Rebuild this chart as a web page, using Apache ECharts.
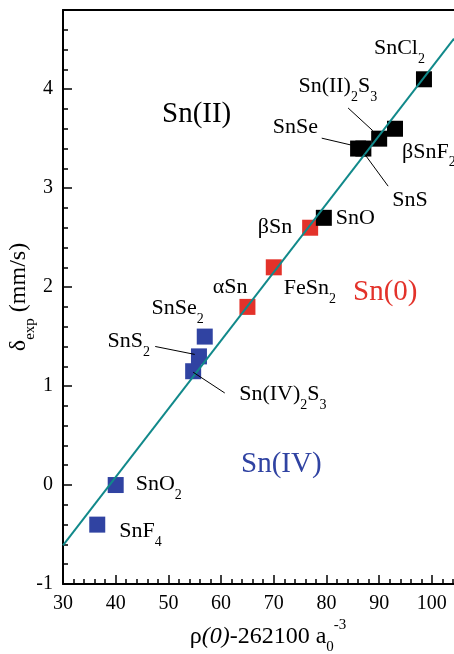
<!DOCTYPE html>
<html>
<head>
<meta charset="utf-8">
<script src="https://cdn.jsdelivr.net/npm/echarts@6/dist/echarts.min.js"></script>
<style>
  html, body { margin: 0; padding: 0; background: #fff; }
  #chart { width: 454px; height: 654px; }
</style>
</head>
<body>
<div id="chart"></div>
<script>
// axis ticks
var xTicks = [30, 40, 50, 60, 70, 80, 90, 100];
var xMinorTicks = [32, 34, 36, 38, 42, 44, 46, 48, 52, 54, 56, 58, 62, 64, 66, 68,
                   72, 74, 76, 78, 82, 84, 86, 88, 92, 94, 96, 98, 102, 104];
var yTicks = [-1, 0, 1, 2, 3, 4];
var yMinorTicks = [-0.8, -0.6, -0.4, -0.2, 0.2, 0.4, 0.6, 0.8, 1.2, 1.4, 1.6, 1.8,
                   2.2, 2.4, 2.6, 2.8, 3.2, 3.4, 3.6, 3.8, 4.2, 4.4, 4.6];

// Sn(IV) compounds
var sn4Labels = ['SnF{s|4}', 'SnO{s|2}', 'Sn(IV){s|2}S{s|3}', 'SnS{s|2}', 'SnSe{s|2}'];
var sn4X = [36.5, 40.0, 54.7, 55.8, 56.9];
var sn4Y = [-0.40, 0.00, 1.15, 1.30, 1.50];

// Sn(0)
var sn0Labels = ['αSn', 'FeSn{s|2}', 'βSn'];
var sn0X = [65.0, 70.0, 76.9];
var sn0Y = [1.80, 2.20, 2.60];

// Sn(II)
var sn2Labels = ['SnO', 'SnSe', 'SnS', 'Sn(II){s|2}S{s|3}', 'βSnF{s|2}', 'SnCl{s|2}'];
var sn2X = [79.5, 86.0, 87.0, 90.0, 93.0, 98.5];
var sn2Y = [2.70, 3.40, 3.40, 3.50, 3.60, 4.10];

// fitted line, read at the plot edges
var fitX = [30, 104.2];
var fitY = [-0.61, 4.51];

// label leader lines (data units)
var leaderLines = [
  [[84.1, 3.81], [88.8, 3.58]],   // Sn(II)2S3
  [[79.1, 3.505], [84.8, 3.434]], // SnSe
  [[87.3, 3.34], [91.7, 3.02]],   // SnS
  [[47.5, 1.40], [55.0, 1.32]],   // SnS2
  [[54.7, 1.14], [60.7, 0.93]]    // Sn(IV)2S3
];

// label placement: [dx, dy of cap centre, align] in px from the square centre
var labelPlace = {
  'SnF{s|4}': [22, 8, 'left'],
  'SnO{s|2}': [20, 0, 'left'],
  'Sn(IV){s|2}S{s|3}': [46, 24, 'left'],
  'SnS{s|2}': [-49, -14, 'right'],
  'SnSe{s|2}': [-1, -27, 'right'],
  'αSn': [0, -19, 'right'],
  'FeSn{s|2}': [10, 22, 'left'],
  'βSn': [-18, 0, 'right'],
  'SnO': [12, 1, 'left'],
  'SnSe': [-40, -20, 'right'],
  'SnS': [29, 53, 'left'],
  'Sn(II){s|2}S{s|3}': [-2, -51, 'right'],
  'βSnF{s|2}': [7, 24, 'left'],
  'SnCl{s|2}': [1, -30, 'right']
};

var FONT = 'Liberation Serif';
var BLUE = '#3043A2', RED = '#E3322A', BLACK = '#000000', TEAL = '#11898A';

var richLabel = {
  m: { fontFamily: FONT, fontSize: 22, lineHeight: 24, verticalAlign: 'top', color: '#000' },
  s: { fontFamily: FONT, fontSize: 14, lineHeight: 14, padding: [15, 0, 0, 0], verticalAlign: 'top', color: '#000' }
};

function wrapMain(txt) {
  // everything outside {s|..} goes into {m|..}
  return txt.split(/(\{s\|[^}]*\})/).map(function (p) {
    if (p === '') return '';
    return p.indexOf('{s|') === 0 ? p : '{m|' + p + '}';
  }).join('');
}

function points(labels, xs, ys) {
  var out = [];
  for (var i = 0; i < xs.length; i++) {
    var pl = labelPlace[labels[i]];
    out.push({
      value: [xs[i], ys[i]],
      label: {
        show: true,
        position: 'inside',
        offset: [pl[0], pl[1] - 12],
        align: pl[2],
        verticalAlign: 'top',
        formatter: wrapMain(labels[i]),
        rich: richLabel
      }
    });
  }
  return out;
}

function scatter(name, color, data) {
  return {
    name: name,
    type: 'scatter',
    symbol: 'rect',
    symbolSize: 16,
    itemStyle: { color: color, opacity: 1 },
    z: 2,
    silent: true,
    data: data
  };
}

var fitData = [];
for (var i = 0; i < fitX.length; i++) fitData.push([fitX[i], fitY[i]]);

var chart = echarts.init(document.getElementById('chart'), null, { renderer: 'canvas' });

var axisLine = { show: true, onZero: false, lineStyle: { color: '#000', width: 2 } };
var noLine = { show: false, onZero: false };

chart.setOption({
  animation: false,
  grid: { left: 63, right: 0, top: 10, bottom: 70, containLabel: false, outerBoundsMode: 'none' },
  xAxis: [
    {
      type: 'value', min: 30, max: 104.2, position: 'bottom',
      axisLine: axisLine,
      axisTick: { show: true, inside: true, length: 9, lineStyle: { color: '#000', width: 1.5 }, customValues: xTicks },
      axisLabel: { customValues: xTicks, fontFamily: FONT, fontSize: 20, color: '#000', margin: 10 },
      splitLine: { show: false },
      name: '{m|ρ}{i|(0)}{m|-262100 a}{s|0}{p|-3}',
      nameLocation: 'middle',
      nameGap: 34,
      nameMoveOverlap: false,
      nameTextStyle: {
        padding: [0, 0, 0, 19],
        rich: {
          m: { fontFamily: FONT, fontSize: 24, lineHeight: 26, padding: [7, 0, 0, 0], verticalAlign: 'top', color: '#000' },
          i: { fontFamily: FONT, fontSize: 24, fontStyle: 'italic', lineHeight: 26, padding: [7, 0, 0, 0], verticalAlign: 'top', color: '#000' },
          s: { fontFamily: FONT, fontSize: 15, lineHeight: 15, padding: [22, 0, 0, 0], verticalAlign: 'top', color: '#000' },
          p: { fontFamily: FONT, fontSize: 15, lineHeight: 15, verticalAlign: 'top', color: '#000' }
        }
      }
    },
    {
      type: 'value', min: 30, max: 104.2, position: 'bottom',
      axisLine: noLine,
      axisTick: { show: true, inside: true, length: 5, lineStyle: { color: '#000', width: 1.5 }, customValues: xMinorTicks },
      axisLabel: { show: false },
      splitLine: { show: false }
    },
    {
      type: 'value', min: 30, max: 104.2, position: 'top',
      axisLine: axisLine,
      axisTick: { show: false },
      axisLabel: { show: false },
      splitLine: { show: false }
    }
  ],
  yAxis: [
    {
      type: 'value', min: -1, max: 4.8, position: 'left',
      axisLine: axisLine,
      axisTick: { show: true, inside: true, length: 9, lineStyle: { color: '#000', width: 1.5 }, customValues: yTicks },
      axisLabel: { customValues: yTicks, fontFamily: FONT, fontSize: 20, color: '#000', margin: 10 },
      splitLine: { show: false },
      name: '{m|δ}{s|exp}{m| (mm/s)}',
      nameLocation: 'middle',
      nameGap: 30,
      nameMoveOverlap: false,
      nameTextStyle: {
        rich: {
          m: { fontFamily: FONT, fontSize: 24, lineHeight: 26, verticalAlign: 'top', color: '#000' },
          s: { fontFamily: FONT, fontSize: 15, lineHeight: 15, padding: [16, 0, 0, 0], verticalAlign: 'top', color: '#000' }
        }
      }
    },
    {
      type: 'value', min: -1, max: 4.8, position: 'left',
      axisLine: noLine,
      axisTick: { show: true, inside: true, length: 5, lineStyle: { color: '#000', width: 1.5 }, customValues: yMinorTicks },
      axisLabel: { show: false },
      splitLine: { show: false }
    }
  ],
  series: [
    scatter('Sn(IV)', BLUE, points(sn4Labels, sn4X, sn4Y)),
    scatter('Sn(0)', RED, points(sn0Labels, sn0X, sn0Y)),
    scatter('Sn(II)', BLACK, points(sn2Labels, sn2X, sn2Y)),
    {
      type: 'line',
      data: fitData,
      symbol: 'none',
      clip: true,
      z: 3,
      silent: true,
      lineStyle: { color: TEAL, width: 2 }
    },
    {
      type: 'lines',
      coordinateSystem: 'cartesian2d',
      z: 4,
      silent: true,
      lineStyle: { color: '#000', width: 1, opacity: 1 },
      data: leaderLines.map(function (c) { return { coords: c }; })
    }
  ],
  graphic: [
    { type: 'text', left: 162, top: 100, style: { text: 'Sn(II)', font: '29px "Liberation Serif"', fill: BLACK } },
    { type: 'text', left: 353, top: 278, style: { text: 'Sn(0)', font: '29px "Liberation Serif"', fill: RED } },
    { type: 'text', left: 241, top: 450, style: { text: 'Sn(IV)', font: '29px "Liberation Serif"', fill: BLUE } }
  ]
});
</script>
</body>
</html>
